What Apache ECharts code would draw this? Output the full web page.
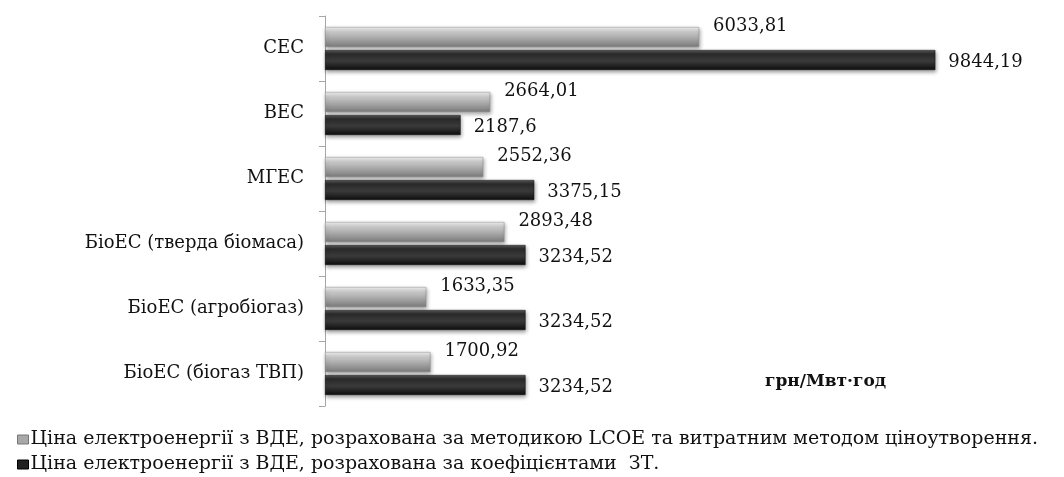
<!DOCTYPE html>
<html><head><meta charset="utf-8">
<script src="https://cdn.jsdelivr.net/npm/echarts@6/dist/echarts.min.js"></script>
<style>html,body{margin:0;padding:0;background:#fff}#c{width:1064px;height:477px}</style>
</head><body><div id="c"></div>
<script>
const categories = ['СЕС', 'ВЕС', 'МГЕС', 'БіоЕС (тверда біомаса)', 'БіоЕС (агробіогаз)', 'БіоЕС (біогаз ТВП)'];
const lcoeValues = [6033.81, 2664.01, 2552.36, 2893.48, 1633.35, 1700.92];
const ztValues = [9844.19, 2187.6, 3375.15, 3234.52, 3234.52, 3234.52];
const seriesNames = [
  'Ціна електроенергії з ВДЕ, розрахована за методикою LCOE та витратним методом ціноутворення.',
  'Ціна електроенергії з ВДЕ, розрахована за коефіцієнтами  ЗТ.'
];
const unitLabel = 'грн/Мвт·год';

const FONT = '"DejaVu Serif", "Liberation Serif", serif';
const fmt = v => String(v).replace('.', ',');

const grayGrad = new echarts.graphic.LinearGradient(0, 0, 0, 1, [
  {offset: 0, color: '#f2f2f2'}, {offset: 0.25, color: '#c8c8c8'},
  {offset: 0.6, color: '#a4a4a4'}, {offset: 1, color: '#7a7a7a'}
]);
const blackGrad = new echarts.graphic.LinearGradient(0, 0, 0, 1, [
  {offset: 0, color: '#5a5a5a'}, {offset: 0.2, color: '#2a2a2a'},
  {offset: 0.55, color: '#3a3a3a'}, {offset: 1, color: '#0e0e0e'}
]);

const legendBase = {
  orient: 'horizontal', left: 12, itemGap: 0,
  itemWidth: 11, itemHeight: 9, icon: 'rect',
  textStyle: {fontSize: 19, fontFamily: FONT, color: '#111', padding: [0, 0, 0, -3]}
};

const chart = echarts.init(document.getElementById('c'), null, {renderer: 'canvas'});
chart.setOption({
  animation: false,
  textStyle: {fontFamily: FONT},
  grid: {left: 325, right: 119, top: 16, bottom: 71, containLabel: false},
  xAxis: {type: 'value', min: 0, max: 10000, show: false},
  yAxis: {
    type: 'category', data: categories, inverse: true,
    axisLine: {show: true, lineStyle: {color: '#a6a6a6', width: 1}},
    axisTick: {show: true, length: 6, lineStyle: {color: '#a6a6a6'}},
    axisLabel: {color: '#111', fontSize: 18, fontFamily: FONT, margin: 21}
  },
  legend: [
    Object.assign({}, legendBase, {top: 425,
      data: [{name: seriesNames[0], itemStyle: {color: '#a8a8a8', borderColor: '#777', borderWidth: 1}}]}),
    Object.assign({}, legendBase, {top: 450,
      data: [{name: seriesNames[1], itemStyle: {color: '#222', borderColor: '#000', borderWidth: 1}}]})
  ],
  graphic: [{
    type: 'text', left: 765, top: 373,
    style: {text: unitLabel, font: 'bold 17px ' + FONT, fill: '#111'}
  }],
  series: [
    {
      name: seriesNames[0], type: 'bar', data: lcoeValues,
      barWidth: 20, barGap: '15%',
      itemStyle: {color: grayGrad, borderColor: '#8a8a8a', borderWidth: 0.5,
        shadowColor: 'rgba(0,0,0,0.35)', shadowBlur: 4, shadowOffsetX: 1, shadowOffsetY: 2},
      label: {show: true, position: 'right', distance: 14, offset: [0, -11],
        formatter: p => fmt(p.value), color: '#111', fontSize: 18, fontFamily: FONT}
    },
    {
      name: seriesNames[1], type: 'bar', data: ztValues,
      barWidth: 20,
      itemStyle: {color: blackGrad, borderColor: '#111', borderWidth: 0.5,
        shadowColor: 'rgba(0,0,0,0.4)', shadowBlur: 4, shadowOffsetX: 1, shadowOffsetY: 2},
      label: {show: true, position: 'right', distance: 13, offset: [0, 2],
        formatter: p => fmt(p.value), color: '#111', fontSize: 18, fontFamily: FONT}
    }
  ]
});
</script></body></html>
